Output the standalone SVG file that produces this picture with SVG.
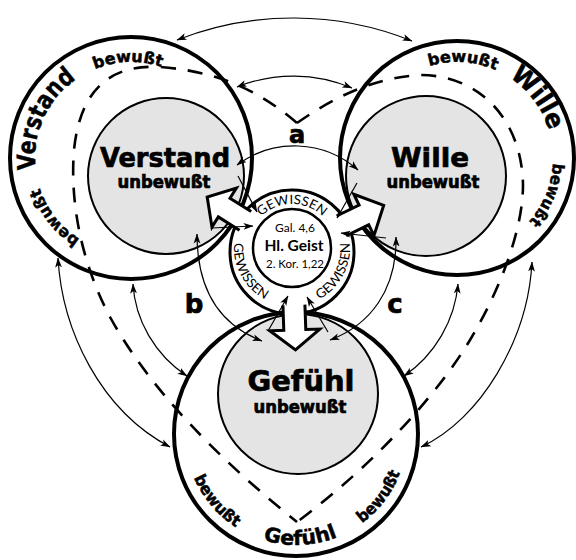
<svg xmlns="http://www.w3.org/2000/svg" width="576" height="560" viewBox="0 0 576 560">
<defs>
<style>
.inner{fill:#e4e4e4;stroke:#000;stroke-width:2}
.outer{fill:none;stroke:#000;stroke-width:4}
.dash{fill:none;stroke:#000;stroke-width:2.6;stroke-dasharray:15 12}
.con{fill:none;stroke:#000;stroke-width:1.2}
.blk{fill:#fff;stroke:#000;stroke-width:3;stroke-linejoin:miter}
.heavy{font-family:"DejaVu Sans","Liberation Sans",sans-serif;font-weight:bold;fill:#000;stroke:#000;stroke-width:0.7;text-anchor:middle}
.ring{font-family:"DejaVu Sans","Liberation Sans",sans-serif;font-weight:bold;fill:#000;stroke:#000;stroke-width:0.5;text-anchor:middle}
.gw{font-family:Lato,"Open Sans",sans-serif;font-size:13px;fill:#000;text-anchor:middle}
.mid{font-family:Lato,"Open Sans",sans-serif;fill:#000;text-anchor:middle}
</style>
<marker id="ae" viewBox="0 0 10 8" refX="9.5" refY="4" markerWidth="10" markerHeight="8" markerUnits="userSpaceOnUse" orient="auto"><path d="M0,0.6 L10,4 L0,7.4 L2.5,4Z"/></marker>
<marker id="as" viewBox="0 0 10 8" refX="0.5" refY="4" markerWidth="10" markerHeight="8" markerUnits="userSpaceOnUse" orient="auto"><path d="M10,0.6 L0,4 L10,7.4 L7.5,4Z"/></marker>
<path id="pV" d="M131,254 A96,96 0 1 1 131,62 A96,96 0 1 1 131,254"/>
<path id="pW" d="M457,254 A96,96 0 1 1 457,62 A96,96 0 1 1 457,254"/>
<path id="pG" d="M296,323 A111,111 0 1 0 296,545 A111,111 0 1 0 296,323"/>
<path id="pGt" d="M292,292 A44,44 0 1 1 292,204 A44,44 0 1 1 292,292"/>
<path id="pGs" d="M292,190 A58,58 0 1 0 292,306 A58,58 0 1 0 292,190"/>
</defs>
<rect width="576" height="560" fill="#fff"/>

<g id="node-verstand">
<circle class="inner" cx="166" cy="176" r="78"/>
<circle class="outer" cx="131" cy="158" r="121"/>
<text class="heavy" x="165" y="167" font-size="27" textLength="130" lengthAdjust="spacingAndGlyphs">Verstand</text>
<text class="heavy" x="164" y="188" font-size="17" textLength="93" lengthAdjust="spacingAndGlyphs">unbewußt</text>
<text class="ring" font-size="16"><textPath href="#pV" startOffset="298" textLength="68" lengthAdjust="spacingAndGlyphs">bewußt</textPath></text>
<text class="ring" font-size="25"><textPath href="#pV" startOffset="191" textLength="104" lengthAdjust="spacingAndGlyphs">Verstand</textPath></text>
<text class="ring" font-size="16"><textPath href="#pV" startOffset="87" textLength="66" lengthAdjust="spacingAndGlyphs">bewußt</textPath></text>
</g>

<g id="node-wille">
<circle class="inner" cx="426" cy="176" r="80"/>
<circle class="outer" cx="457" cy="158" r="117"/>
<text class="heavy" x="430" y="167" font-size="27" textLength="78" lengthAdjust="spacingAndGlyphs">Wille</text>
<text class="heavy" x="433" y="188" font-size="17" textLength="93" lengthAdjust="spacingAndGlyphs">unbewußt</text>
<text class="ring" font-size="16"><textPath href="#pW" startOffset="307" textLength="68" lengthAdjust="spacingAndGlyphs">bewußt</textPath></text>
<text class="ring" font-size="25"><textPath href="#pW" startOffset="390" textLength="68" lengthAdjust="spacingAndGlyphs">Wille</textPath></text>
<text class="ring" font-size="16"><textPath href="#pW" startOffset="489" textLength="64" lengthAdjust="spacingAndGlyphs">bewußt</textPath></text>
</g>

<g id="node-gefuehl">
<circle class="inner" cx="298" cy="394" r="80"/>
<circle class="outer" cx="296" cy="434" r="122"/>
<text class="heavy" x="301" y="391" font-size="28" textLength="107" lengthAdjust="spacingAndGlyphs">Gefühl</text>
<text class="heavy" x="300" y="413" font-size="17" textLength="93" lengthAdjust="spacingAndGlyphs">unbewußt</text>
<text class="ring" font-size="16"><textPath href="#pG" startOffset="252" textLength="66" lengthAdjust="spacingAndGlyphs">bewußt</textPath></text>
<text class="ring" font-size="20"><textPath href="#pG" startOffset="353" textLength="76" lengthAdjust="spacingAndGlyphs">Gefühl</textPath></text>
<text class="ring" font-size="16"><textPath href="#pG" startOffset="451" textLength="64" lengthAdjust="spacingAndGlyphs">bewußt</textPath></text>
</g>

<g id="dashed-boundaries">
<path class="dash" d="M297,123 C270,100 230,72 160,67 C110,64 80,90 74,150 C70,200 80,260 110,317 C150,390 220,460 297,522"/>
<path class="dash" d="M297,123 C330,100 370,78 420,75 C480,75 522,120 523,185 C523,230 500,290 470,340 C440,390 380,460 297,522"/>
</g>

<g id="node-geist">
<circle cx="292" cy="252" r="62" fill="none" stroke="#000" stroke-width="3"/>
<circle cx="292" cy="248" r="39" fill="#fff" stroke="#000" stroke-width="2.5"/>
<path class="blk" d="M55,-11 L80,-11 L80,-23 L100,0 L80,23 L80,11 L55,11" transform="translate(292,250) rotate(212)"/>
<path class="blk" d="M55,-11 L80,-11 L80,-23 L102,0 L80,23 L80,11 L55,11" transform="translate(292,250) rotate(-26)"/>
<path class="blk" d="M55,-11 L80,-11 L80,-25 L100,0 L80,25 L80,11 L55,11" transform="translate(292,250) rotate(88)"/>
<text class="gw"><textPath href="#pGt" startOffset="138" textLength="68" lengthAdjust="spacingAndGlyphs">GEWISSEN</textPath></text>
<text class="gw"><textPath href="#pGs" startOffset="120" textLength="68" lengthAdjust="spacingAndGlyphs">GEWISSEN</textPath></text>
<text class="gw"><textPath href="#pGs" startOffset="244" textLength="68" lengthAdjust="spacingAndGlyphs">GEWISSEN</textPath></text>
<text class="mid" x="295" y="232" font-size="12">Gal. 4,6</text>
<text class="mid" x="294" y="251" font-size="15.5" font-weight="bold">Hl. Geist</text>
<text class="mid" x="295" y="268" font-size="12" textLength="58" lengthAdjust="spacingAndGlyphs">2. Kor. 1,22</text>
</g>

<g id="connectors" marker-start="url(#as)" marker-end="url(#ae)">
<path class="con" d="M177,40 A318,318 0 0 1 412,41"/>
<path class="con" d="M237,87 A150,150 0 0 1 352,88"/>
<path class="con" d="M237,165 A96,96 0 0 1 358,170"/>
<path class="con" d="M197,234 C197,290 220,325 262,341"/>
<path class="con" d="M133,284 C135,320 155,355 187,376"/>
<path class="con" d="M58,258 C62,330 100,410 170,447"/>
<path class="con" d="M396,237 C397,290 370,325 330,340"/>
<path class="con" d="M458,284 C455,320 435,355 404,376"/>
<path class="con" d="M532,262 C528,340 480,420 421,447"/>
</g>
<g id="connectors-single" marker-end="url(#ae)">
<path class="con" d="M238,176 L257,212"/>
<path class="con" d="M212,228 L253,226"/>
<path class="con" d="M357,183 L337,218"/>
<path class="con" d="M386,238 L341,233"/>
<path class="con" d="M268,331 L288,296"/>
<path class="con" d="M328,332 L307,297"/>
</g>

<g id="labels">
<text class="heavy" x="297" y="143" font-size="24">a</text>
<text class="heavy" x="194" y="313" font-size="26">b</text>
<text class="heavy" x="395" y="313" font-size="26">c</text>
</g>
</svg>
